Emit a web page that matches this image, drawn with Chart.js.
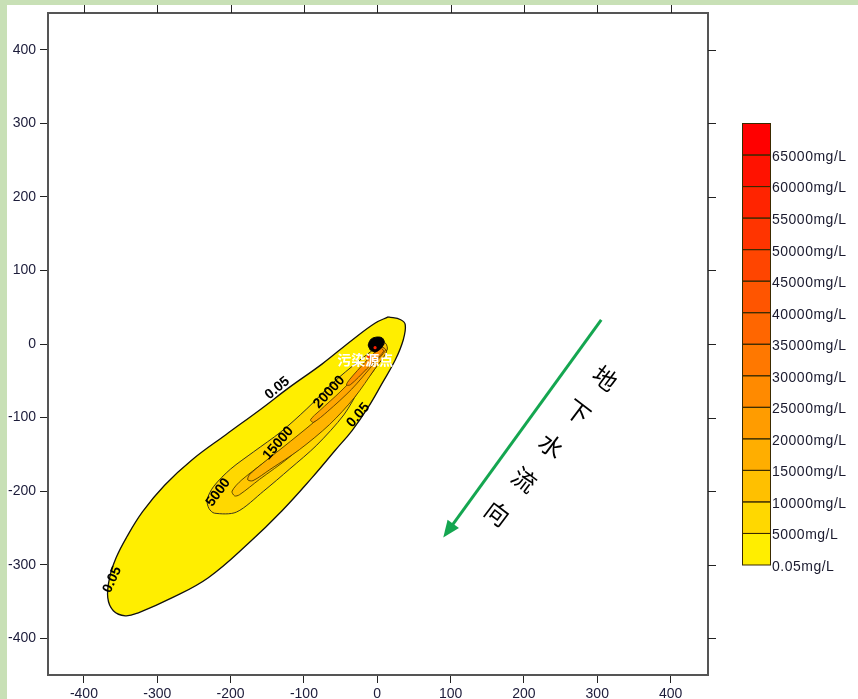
<!DOCTYPE html>
<html>
<head>
<meta charset="utf-8">
<script src="https://cdn.jsdelivr.net/npm/chart.js@4/dist/chart.umd.min.js"></script>
<style>
  html, body { margin: 0; padding: 0; background: #c8e0b6; }
  #wrap { position: absolute; left: 0; top: 0; width: 858px; height: 699px; }
</style>
</head>
<body>
<div id="wrap"><canvas id="plume" width="858" height="699"></canvas></div>
<script>
const xTickValues = [-400, -300, -200, -100, 0, 100, 200, 300, 400];
const yTickValues = [-400, -300, -200, -100, 0, 100, 200, 300, 400];

// contour outlines (x, y in metres)
const contour005 = [
  [15, 36.8], [32, 33], [38.2, 25.9], [35.4, 5.5], [24.5, -21.8], [6.8, -53.2], [-12.3, -85.9],
  [-34.1, -117.3], [-57.3, -144.5], [-88.6, -181.3], [-129.5, -226.3], [-175.9, -271.3],
  [-230.4, -317.7], [-279.5, -344.9], [-325.8, -365.4], [-343.6, -369.5], [-359.9, -362.6],
  [-367.5, -344.9], [-365, -317.7], [-356, -290.4], [-342, -263.1], [-320, -228],
  [-290, -192], [-252, -157], [-206, -123], [-158, -88], [-121.3, -60],
  [-75, -27], [-34.1, 5.5], [-2.7, 28.6]
];
const contour5000 = [
  [1.4, -2.5], [-27, -24.5], [-59, -51.5], [-96, -88], [-131.5, -119.5], [-168.5, -146.5],
  [-200, -170], [-223, -193.5], [-232, -211.5], [-229.5, -223.6], [-222, -230],
  [-192, -228.5], [-155, -200], [-119.5, -170], [-82.5, -137.5], [-45.7, -96.5],
  [-23.9, -61], [-0.7, -28], [12.9, -8.5], [9.5, 2.7]
];
const contour10000 = [
  [6.8, -2.4], [-1.5, -16.5], [-28, -51.5], [-62, -85.5], [-103, -123.5], [-144, -153.5],
  [-184.5, -184.5], [-198, -200], [-194.5, -206.5], [-188, -205], [-160.5, -184], [-120, -154],
  [-79, -116], [-38.5, -75], [-8.5, -41], [13.5, -7.5], [11.5, 0.8]
];
const contour15000 = [
  [6.2, -3.2], [-9.5, -22.5], [-36.5, -57], [-77, -98], [-118, -132], [-156, -162],
  [-174.5, -178], [-176.5, -184.8], [-169.5, -185.8], [-146.5, -170.8], [-106, -143.5],
  [-65, -109.4], [-31, -72.6], [-3.7, -34.4], [12.6, -10.4]
];
const contour20000 = [
  [5, -3.2], [-16, -29.5], [-49.5, -64], [-79, -91], [-91, -103], [-87, -106.5],
  [-67.5, -91.5], [-35, -61.5], [-7.8, -30.5], [11.3, -8]
];
const contour25000 = [
  [4.1, -4.1], [-16.4, -24.5], [-37.5, -48], [-42, -55.5], [-36.8, -55.5], [-14.6, -34], [8.5, -10]
];
const sourceBlob = [
  [-9.5, -8.2], [-12.3, -1.4], [-8.2, 6.8], [0, 9.5], [6.8, 8.2], [9.5, 2.7], [5.5, -5.5], [-2.7, -10.9]
];
const redSpots = [[-3, -5], [-12, -17]];

// contour labels: text, x, y, angle (deg)
const contourLabels = [
  ['0.05', -136.3, -60, -39],
  ['0.05', -25.9, -96.8, -49],
  ['0.05', -361.3, -320.4, -66],
  ['5000', -216.8, -201.8, -54],
  ['15000', -135, -135, -49],
  ['20000', -65.4, -65.4, -47]
];
const sourceLabel = ['污染源点', -16.4, -21.8];

// groundwater flow arrow
const flowStart = [305.4, 32.7];
const flowEnd = [90, -263.1];
const flowChars = ['地', '下', '水', '流', '向'];
const flowTextFrom = [310.8, -46.4];
const flowTextTo = [163.6, -230.4];

// colour bar, top to bottom
const barColors = ['#FF0000', '#FF1200', '#FF2400', '#FF3400', '#FF4500', '#FF5500', '#FF6600',
  '#FF7800', '#FF8A00', '#FF9C00', '#FFAE00', '#FFC000', '#FFD800', '#FFEE00'];
const barLabels = ['65000mg/L', '60000mg/L', '55000mg/L', '50000mg/L', '45000mg/L', '40000mg/L',
  '35000mg/L', '30000mg/L', '25000mg/L', '20000mg/L', '15000mg/L', '10000mg/L', '5000mg/L', '0.05mg/L'];

Chart.defaults.font.family = '"Liberation Sans", Arial, sans-serif';

function closed(pts) {
  const p = pts.map(a => ({ x: a[0], y: a[1] }));
  p.push({ x: pts[0][0], y: pts[0][1] });
  return p;
}

function shape(pts, fillColor, lineColor, lineWidth, order, tension) {
  return {
    data: closed(pts),
    showLine: true,
    fill: 'shape',
    backgroundColor: fillColor,
    borderColor: lineColor,
    borderWidth: lineWidth,
    tension: tension,
    pointRadius: 0,
    order: order
  };
}

const pagePlugin = {
  id: 'page',
  beforeDraw(chart) {
    const ctx = chart.ctx;
    ctx.save();
    ctx.fillStyle = '#c8e0b6';
    ctx.fillRect(0, 0, chart.width, chart.height);
    ctx.fillStyle = '#ffffff';
    ctx.fillRect(7, 5, chart.width - 7, chart.height - 5);
    ctx.restore();
  },
  afterDraw(chart) {
    const ctx = chart.ctx;
    const xs = chart.scales.x, ys = chart.scales.y;
    const a = chart.chartArea;
    ctx.save();

    // frame + mirror ticks
    ctx.strokeStyle = '#555';
    ctx.lineWidth = 2;
    ctx.strokeRect(a.left, a.top, a.right - a.left, a.bottom - a.top);
    ctx.strokeStyle = '#222';
    ctx.lineWidth = 1;
    ctx.beginPath();
    xTickValues.forEach(v => {
      const px = Math.round(xs.getPixelForValue(v)) + 0.5;
      ctx.moveTo(px, a.top);
      ctx.lineTo(px, a.top - 8);
    });
    yTickValues.forEach(v => {
      const py = Math.round(ys.getPixelForValue(v)) + 0.5;
      ctx.moveTo(a.right, py);
      ctx.lineTo(a.right + 8, py);
    });
    ctx.stroke();

    // contour labels
    ctx.fillStyle = '#000';
    ctx.font = 'bold 14px "Liberation Sans", Arial, sans-serif';
    ctx.textAlign = 'center';
    ctx.textBaseline = 'middle';
    contourLabels.forEach(l => {
      ctx.save();
      ctx.translate(xs.getPixelForValue(l[1]), ys.getPixelForValue(l[2]));
      ctx.rotate(l[3] * Math.PI / 180);
      ctx.fillText(l[0], 0, 0);
      ctx.restore();
    });

    // source label
    ctx.fillStyle = '#fff';
    ctx.font = 'bold 14px "Noto Sans CJK SC", sans-serif';
    ctx.fillText(sourceLabel[0], xs.getPixelForValue(sourceLabel[1]), ys.getPixelForValue(sourceLabel[2]));

    // flow arrow
    const x0 = xs.getPixelForValue(flowStart[0]), y0 = ys.getPixelForValue(flowStart[1]);
    const x1 = xs.getPixelForValue(flowEnd[0]), y1 = ys.getPixelForValue(flowEnd[1]);
    const ang = Math.atan2(y1 - y0, x1 - x0);
    ctx.strokeStyle = '#14a650';
    ctx.fillStyle = '#14a650';
    ctx.lineWidth = 3;
    ctx.beginPath();
    ctx.moveTo(x0, y0);
    ctx.lineTo(x1 - 12 * Math.cos(ang), y1 - 12 * Math.sin(ang));
    ctx.stroke();
    ctx.beginPath();
    ctx.moveTo(x1, y1);
    ctx.lineTo(x1 - 17 * Math.cos(ang) + 7 * Math.sin(ang), y1 - 17 * Math.sin(ang) - 7 * Math.cos(ang));
    ctx.lineTo(x1 - 17 * Math.cos(ang) - 7 * Math.sin(ang), y1 - 17 * Math.sin(ang) + 7 * Math.cos(ang));
    ctx.closePath();
    ctx.fill();

    ctx.fillStyle = '#000';
    ctx.font = '24px "Noto Sans CJK SC", sans-serif';
    flowChars.forEach((c, i) => {
      const t = i / (flowChars.length - 1);
      const fx = flowTextFrom[0] + (flowTextTo[0] - flowTextFrom[0]) * t;
      const fy = flowTextFrom[1] + (flowTextTo[1] - flowTextFrom[1]) * t;
      ctx.save();
      ctx.translate(xs.getPixelForValue(fx), ys.getPixelForValue(fy));
      ctx.rotate(37 * Math.PI / 180);
      ctx.fillText(c, 0, 0);
      ctx.restore();
    });

    // colour bar
    const bx = 742, bw = 28, btop = 123.5, bh = (565 - 123.5) / barColors.length;
    barColors.forEach((c, i) => {
      ctx.fillStyle = c;
      ctx.fillRect(bx, btop + i * bh, bw, bh);
    });
    ctx.strokeStyle = '#3a2a00';
    ctx.lineWidth = 1;
    barColors.forEach((c, i) => {
      ctx.strokeRect(bx + 0.5, btop + i * bh, bw, bh);
    });
    ctx.fillStyle = '#1a1a2e';
    ctx.font = '14px "Liberation Sans", Arial, sans-serif';
    ctx.textAlign = 'left';
    ctx.letterSpacing = '0.5px';
    barLabels.forEach((t, i) => {
      ctx.fillText(t, bx + bw + 2, btop + (i + 1) * bh + 2);
    });
    ctx.restore();
  }
};

const tickFont = { size: 14, family: '"Liberation Sans", Arial, sans-serif' };

new Chart(document.getElementById('plume'), {
  type: 'scatter',
  data: {
    datasets: [
      { data: redSpots.map(p => ({ x: p[0], y: p[1] })), pointRadius: 1.6, backgroundColor: '#ff2000', borderWidth: 0, order: 0 },
      shape(sourceBlob, '#000000', '#000000', 1, 1, 0.3),
      shape(contour25000, '#ff9000', '#4a3000', 0.8, 2, 0.3),
      shape(contour20000, '#ffa600', '#4a3000', 0.8, 3, 0.3),
      shape(contour15000, '#ffb400', '#3a2a00', 0.8, 4, 0.3),
      shape(contour10000, '#ffc600', '#3a2a00', 0.8, 5, 0.3),
      shape(contour5000, '#ffd800', '#222', 0.9, 6, 0.3),
      shape(contour005, '#ffee00', '#111', 1.3, 7, 0.4)
    ]
  },
  options: {
    responsive: false,
    animation: false,
    layout: { padding: { left: 0, top: 13, right: 150, bottom: 0 } },
    plugins: { legend: { display: false }, tooltip: { enabled: false } },
    scales: {
      x: {
        type: 'linear', min: -449, max: 451,
        afterBuildTicks: s => { s.ticks = xTickValues.map(v => ({ value: v })); },
        afterFit: s => { s.height = 24; },
        ticks: { font: tickFont, color: '#1c1c3a', padding: 3, maxRotation: 0 },
        grid: { drawOnChartArea: false, tickLength: 8, color: '#222' },
        border: { display: true, color: '#555', width: 2 }
      },
      y: {
        type: 'linear', min: -450, max: 450,
        afterBuildTicks: s => { s.ticks = yTickValues.map(v => ({ value: v })); },
        afterFit: s => { s.width = 48; },
        ticks: { font: tickFont, color: '#1c1c3a', padding: 4 },
        grid: { drawOnChartArea: false, tickLength: 8, color: '#222' },
        border: { display: true, color: '#555', width: 2 }
      }
    }
  },
  plugins: [pagePlugin]
});
</script>
</body>
</html>
